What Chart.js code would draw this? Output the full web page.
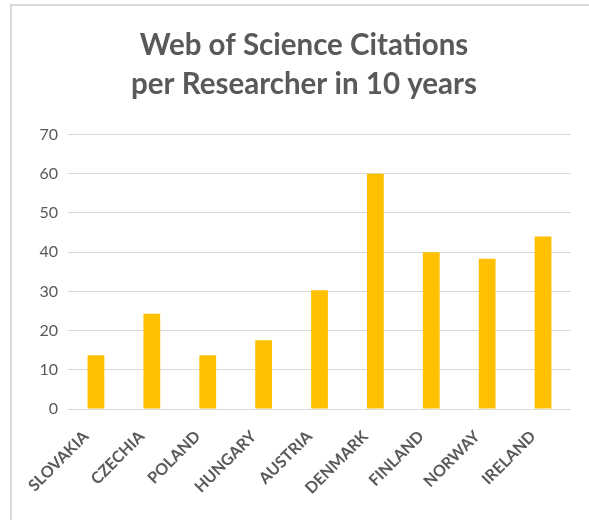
<!DOCTYPE html>
<html>
<head>
<meta charset="utf-8">
<script src="https://cdn.jsdelivr.net/npm/chart.js@4"></script>
<style>
  body { margin: 0; background: #ffffff; }
  .frame {
    position: absolute;
    left: 10px;
    top: 4px;
    width: 577px;
    height: 514px;
    border-left: 2px solid #d9d9d9;
    border-top: 2px solid #d9d9d9;
  }
</style>
</head>
<body>
<div class="frame"><canvas id="citations"></canvas></div>
<script>
var countries = ["SLOVAKIA","CZECHIA","POLAND","HUNGARY","AUSTRIA","DENMARK","FINLAND","NORWAY","IRELAND"];
var citations = [13.7, 24.3, 13.7, 17.5, 30.3, 60, 40, 38.3, 44];
var yTicks = [0, 10, 20, 30, 40, 50, 60, 70];

var ctx = document.getElementById('citations').getContext('2d');

var data = {
  labels: countries,
  datasets: [
    {
      label: "Citations per researcher",
      backgroundColor: "#ffc000",
      borderWidth: 0,
      data: citations,
      barPercentage: 0.6,
      categoryPercentage: 0.5
    }
  ]
};

var options = {
  responsive: true,
  maintainAspectRatio: false,
  animation: false,
  // left padding keeps the title centred like the original
  layout: {
    padding: { left: 25, right: 18, top: 0, bottom: 0 }
  },
  plugins: {
    title: {
      display: true,
      text: ["Web of Science Citations", "per Researcher in 10 years"],
      color: "#595959",
      font: { family: "Lato", size: 29.5, weight: "bold", lineHeight: 1.33 },
      padding: { top: 20, bottom: 30 }
    },
    legend: { display: false },
    tooltip: { enabled: false }
  },
  scales: {
    y: {
      min: 0,
      max: 70,
      afterBuildTicks: function (scale) {
        scale.ticks = yTicks.map(function (v) { return { value: v }; });
      },
      afterFit: function (scale) { scale.width = 31; },
      ticks: {
        color: "#595959",
        padding: 10,
        font: { family: "Lato", size: 16 }
      },
      grid: {
        color: "#d9d9d9",
        lineWidth: 1,
        drawTicks: false
      },
      border: { display: false }
    },
    x: {
      afterFit: function (scale) { scale.height = 111; },
      ticks: {
        color: "#595959",
        minRotation: 45,
        maxRotation: 45,
        padding: 10,
        labelOffset: -10,
        font: { family: "Lato", size: 16, weight: "bold" }
      },
      grid: { display: false },
      border: { display: false }
    }
  }
};

new Chart(ctx, {
  type: 'bar',
  data: data,
  options: options
});
</script>
</body>
</html>
